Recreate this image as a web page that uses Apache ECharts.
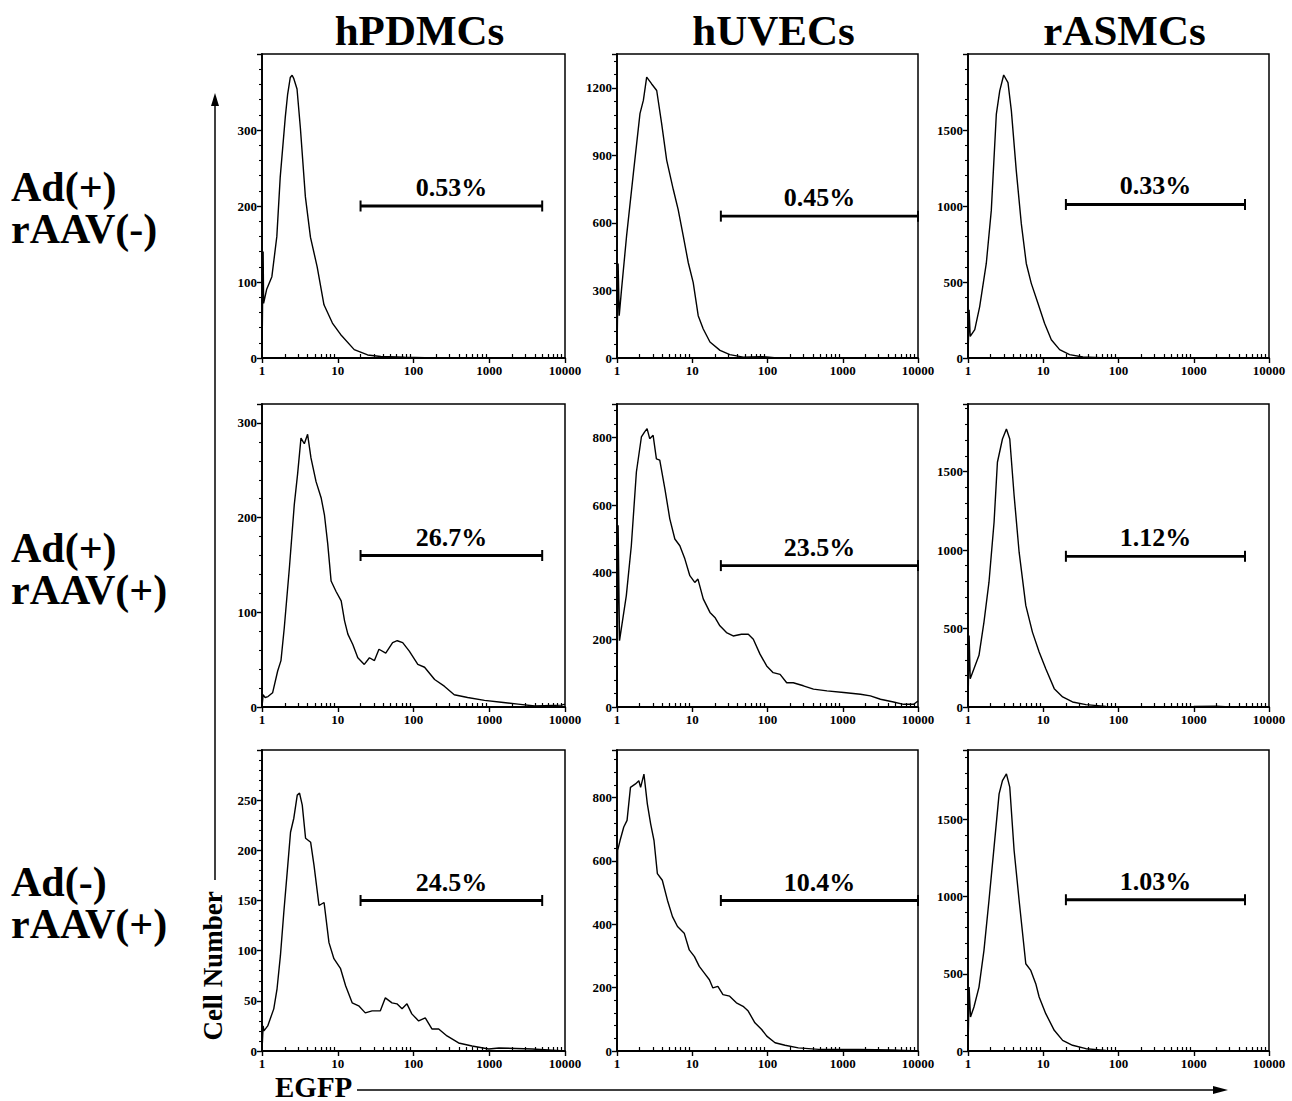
<!DOCTYPE html>
<html>
<head>
<meta charset="utf-8">
<script src="https://cdn.jsdelivr.net/npm/echarts@6/dist/echarts.min.js"></script>
<style>
  html, body { margin: 0; padding: 0; background: #fff; }
  #flow-chart { width: 1292px; height: 1101px; }
</style>
</head>
<body>
<div id="flow-chart"></div>
<script>
// column / row headings
var cellTypes = ["hPDMCs", "hUVECs", "rASMCs"];
var conditions = ["Ad(+)\nrAAV(-)", "Ad(+)\nrAAV(+)", "Ad(-)\nrAAV(+)"];
var xTicks = [1, 10, 100, 1000, 10000];
var xMinorTicks = [2, 3, 4, 5, 6, 7, 8, 9, 20, 30, 40, 50, 60, 70, 80, 90,
  200, 300, 400, 500, 600, 700, 800, 900, 2000, 3000, 4000, 5000, 6000, 7000, 8000, 9000];

// y axis range per panel (rows x cols)
var yMax = [[400, 1350, 2000], [320, 900, 1930], [300, 950, 1950]];
var yStep = [[100, 300, 500], [100, 200, 500], [50, 200, 500]];

// gates (marker bars) and percentages
var gateLow = [20, 24, 20];
var gateHigh = [5000, 10000, 4800];
var gateLevel = [[200, 630, 1010], [160, 420, 960], [150, 475, 980]];
var gatePercent = [["0.53%", "0.45%", "0.33%"], ["26.7%", "23.5%", "1.12%"], ["24.5%", "10.4%", "1.03%"]];

// histograms: [EGFP, cell number]
var hPDMC_r1 = [[1, 0], [1.035, 140], [1.05, 72], [1.15, 90], [1.35, 107], [1.57, 160], [1.74, 238], [2.03, 317],
  [2.18, 347], [2.36, 369], [2.5, 372], [2.62, 368], [2.9, 354], [3.21, 303], [3.74, 212], [4.36, 159], [5.35, 120],
  [6.58, 70], [8.5, 46], [10.9, 31], [16.5, 11], [24.8, 4], [37, 2], [76, 1], [192, 0], [10000, 0]];
var hUVEC_r1 = [[1, 0], [1.035, 420], [1.07, 188], [1.15, 306], [1.34, 541], [1.65, 820], [2.02, 1085], [2.24, 1144],
  [2.48, 1247], [2.89, 1217], [3.37, 1188], [3.92, 1041], [4.57, 879], [5.61, 747], [6.5, 659], [7.6, 541],
  [8.86, 423], [10.3, 335], [12.0, 188], [14.0, 129], [17.2, 71], [23.4, 34], [31.6, 15], [47.6, 4], [80, 6],
  [97, 5], [133, 0], [10000, 0]];
var rASMC_r1 = [[1, 0], [1.035, 317], [1.07, 142], [1.23, 186], [1.43, 338], [1.75, 622], [2.04, 971], [2.38, 1605],
  [2.64, 1757], [2.98, 1862], [3.4, 1812], [3.77, 1626], [4.38, 1233], [5.11, 884], [5.95, 622], [6.93, 491],
  [8.5, 360], [10.4, 229], [12.8, 120], [16.5, 55], [22.4, 22], [33.7, 7], [69, 0], [10000, 0]];

var hPDMC_r2 = [[1, 0], [1.035, 13], [1.1, 10], [1.2, 11], [1.38, 15], [1.61, 38], [1.78, 49], [1.97, 84], [2.3, 147],
  [2.67, 214], [2.95, 246], [3.27, 284], [3.62, 278], [4.0, 288], [4.43, 263], [5.17, 238], [6.03, 221],
  [6.67, 203], [7.38, 172], [8.17, 133], [9.5, 122], [11.1, 112], [12.3, 91], [13.6, 77], [15.8, 66], [18.4, 52],
  [22.4, 45], [26.2, 52], [30.5, 49], [35, 61], [43, 57], [53, 68], [61, 70], [72, 68], [88, 59], [114, 45],
  [140, 42], [190, 29], [255, 22], [345, 13], [518, 10], [866, 7], [1440, 5], [2400, 3], [4000, 1], [9000, 2],
  [10000, 3]];
var hUVEC_r2 = [[1, 0], [1.035, 540], [1.08, 197], [1.33, 331], [1.55, 479], [1.81, 698], [2.11, 802], [2.33, 817],
  [2.51, 827], [2.72, 797], [3.02, 807], [3.34, 737], [3.7, 733], [4.33, 648], [5.03, 559], [5.87, 499], [6.84, 479],
  [7.97, 440], [9.29, 390], [10.8, 370], [11.9, 380], [14.0, 321], [17.2, 281], [20, 266], [23.3, 241], [28.5, 221],
  [35, 211], [45, 216], [55.6, 216], [64.8, 201], [79.5, 157], [97.5, 122], [119, 102], [147, 97], [180, 72],
  [220, 72], [300, 63], [408, 53], [617, 48], [1030, 43], [1720, 38], [2330, 33], [3170, 23], [4730, 15],
  [6430, 8], [8780, 8], [10000, 18]];
var rASMC_r2 = [[1, 0], [1.035, 456], [1.07, 180], [1.2, 244], [1.4, 329], [1.63, 541], [1.9, 795], [2.22, 1177],
  [2.46, 1559], [2.87, 1707], [3.24, 1771], [3.59, 1707], [4.1, 1347], [4.78, 986], [5.86, 647], [7.18, 477],
  [8.82, 350], [10.8, 244], [14, 117], [18.1, 64], [24.5, 32], [36.9, 15], [68, 4], [170, 0], [1000, 3],
  [2000, 5], [3000, 0], [10000, 0]];

var hPDMC_r3 = [[1, 0], [1.035, 25], [1.06, 20], [1.19, 25], [1.43, 42], [1.58, 62], [1.75, 95], [1.94, 138],
  [2.15, 178], [2.38, 218], [2.63, 232], [2.92, 255], [3.13, 257], [3.4, 245], [3.76, 212], [4.39, 208],
  [4.86, 185], [5.66, 145], [6.6, 148], [7.66, 108], [8.9, 92], [10.9, 82], [12.7, 65], [15.5, 48], [18.9, 45],
  [23.1, 38], [28.4, 40], [36.5, 40], [42.5, 53], [52, 48], [60.5, 47], [70.6, 42], [82, 47], [95, 37], [117, 30],
  [143, 33], [175, 22], [215, 22], [277, 15], [394, 8], [592, 5], [985, 2], [1340, 3], [3700, 2], [10000, 0]];
var hUVEC_r3 = [[1, 0], [1.02, 633], [1.1, 665], [1.23, 707], [1.36, 728], [1.51, 832], [1.76, 843], [1.95, 853],
  [2.06, 832], [2.28, 874], [2.53, 780], [2.8, 717], [3.1, 665], [3.44, 560], [4.0, 539], [4.68, 476], [5.46, 424],
  [6.37, 393], [7.82, 372], [9.13, 319], [10.7, 298], [12.4, 267], [14.5, 246], [16.9, 225], [18.8, 199],
  [21.9, 204], [25.6, 178], [31.4, 173], [38.6, 152], [47.4, 141], [55.4, 126], [68, 89], [83.6, 68], [97.8, 47],
  [126, 26], [171, 18], [257, 10], [478, 5], [1640, 5], [4640, 3], [10000, 0]];
var rASMC_r3 = [[1, 0], [1.035, 414], [1.08, 220], [1.2, 285], [1.4, 414], [1.63, 652], [1.9, 975], [2.22, 1321],
  [2.59, 1666], [2.87, 1752], [3.24, 1795], [3.59, 1709], [4.1, 1299], [4.78, 975], [5.86, 565], [6.83, 522],
  [7.95, 436], [8.82, 350], [10.8, 242], [14, 134], [18.1, 69], [24.5, 37], [36.9, 15], [68, 4], [170, 0],
  [10000, 0]];

var histograms = [
  [hPDMC_r1, hUVEC_r1, rASMC_r1],
  [hPDMC_r2, hUVEC_r2, rASMC_r2],
  [hPDMC_r3, hUVEC_r3, rASMC_r3]
];

// panel layout in pixels
var colLeft = [262, 617, 968];
var colWidth = [303, 301, 301];
var rowTop = [54, 404, 750];
var rowHeight = [304, 303, 301];
var rowLabelTop = [166, 527, 861];

var serif = "Liberation Serif";
function plain(v) { return String(v); }

var option = {
  animation: false,
  backgroundColor: "#fff",
  grid: [],
  xAxis: [],
  yAxis: [],
  series: [],
  graphic: []
};

for (var r = 0; r < 3; r++) {
  for (var c = 0; c < 3; c++) {
    var g = r * 3 + c;
    option.grid.push({
      left: colLeft[c], top: rowTop[r], width: colWidth[c], height: rowHeight[r],
      show: true, borderColor: "#000", borderWidth: 1.5
    });
    // main log axis with decade labels
    option.xAxis.push({
      gridIndex: g, type: "log", logBase: 10, min: 1, max: 10000, position: "bottom",
      axisLine: { show: true, lineStyle: { color: "#000", width: 1.8 } },
      axisTick: { show: true, customValues: xTicks, length: 5, lineStyle: { color: "#000", width: 1.4 } },
      axisLabel: {
        customValues: xTicks, formatter: plain, color: "#000", fontFamily: serif,
        fontWeight: "bold", fontSize: 13, margin: 6
      },
      splitLine: { show: false }
    });
    // minor ticks 2..9 in each decade
    option.xAxis.push({
      gridIndex: g, type: "log", logBase: 10, min: 1, max: 10000, position: "bottom",
      axisLine: { show: false },
      axisTick: { show: true, customValues: xMinorTicks, length: 4, inside: true, lineStyle: { color: "#000", width: 1.2 } },
      axisLabel: { show: false },
      splitLine: { show: false }
    });
    option.yAxis.push({
      gridIndex: g, type: "value", min: 0, max: yMax[r][c], interval: yStep[r][c],
      axisLine: { show: true, lineStyle: { color: "#000", width: 1.8 } },
      axisTick: { show: true, length: 5, lineStyle: { color: "#000", width: 1.4 } },
      minorTick: { show: true, splitNumber: 5, length: 3, lineStyle: { color: "#000", width: 1.1 } },
      axisLabel: {
        formatter: plain, showMaxLabel: false, color: "#000", fontFamily: serif,
        fontWeight: "bold", fontSize: 13, margin: 5
      },
      splitLine: { show: false }
    });

    option.series.push({
      type: "line", xAxisIndex: g * 2, yAxisIndex: g,
      data: histograms[r][c],
      symbol: "none", smooth: false,
      lineStyle: { color: "#000", width: 1.4 }
    });
    // gate bar
    option.series.push({
      type: "line", xAxisIndex: g * 2, yAxisIndex: g,
      data: [[gateLow[c], gateLevel[r][c]], [gateHigh[c], gateLevel[r][c]]],
      symbol: "rect", symbolSize: [2, 11], clip: false,
      itemStyle: { color: "#000" },
      lineStyle: { color: "#000", width: 2.8 }
    });
    // gate percentage, centred over the bar
    option.series.push({
      type: "scatter", xAxisIndex: g * 2, yAxisIndex: g,
      data: [[Math.sqrt(gateLow[c] * gateHigh[c]), gateLevel[r][c]]],
      symbolSize: 1, itemStyle: { color: "transparent" },
      emphasis: { disabled: true },
      label: {
        show: true, position: "top", distance: 5, formatter: gatePercent[r][c],
        color: "#000", opacity: 1, textBorderWidth: 0,
        fontFamily: serif, fontWeight: "bold", fontSize: 26
      }
    });
  }
}

for (var c = 0; c < 3; c++) {
  option.graphic.push({
    type: "text", x: colLeft[c] + colWidth[c] / 2 + 6, y: 30,
    style: {
      text: cellTypes[c], fill: "#000", fontFamily: serif, fontWeight: "bold", fontSize: 43,
      textAlign: "center", textVerticalAlign: "middle"
    }
  });
}
for (var r = 0; r < 3; r++) {
  option.graphic.push({
    type: "text", x: 11, y: rowLabelTop[r],
    style: {
      text: conditions[r], fill: "#000", fontFamily: serif, fontWeight: "bold", fontSize: 42,
      lineHeight: 42, textAlign: "left", textVerticalAlign: "top"
    }
  });
}

// axis titles with arrows
option.graphic.push(
  {
    type: "text", x: 213, y: 966, rotation: Math.PI / 2,
    style: {
      text: "Cell Number", fill: "#000", fontFamily: serif, fontWeight: "bold", fontSize: 27,
      textAlign: "center", textVerticalAlign: "middle"
    }
  },
  { type: "line", shape: { x1: 215, y1: 880, x2: 215, y2: 104 }, style: { stroke: "#000", lineWidth: 1.5 } },
  { type: "polygon", shape: { points: [[215, 93], [211, 106], [219, 106]] }, style: { fill: "#000" } },
  {
    type: "text", x: 275, y: 1101,
    style: {
      text: "EGFP", fill: "#000", fontFamily: serif, fontWeight: "bold", fontSize: 29,
      textAlign: "left", textVerticalAlign: "bottom"
    }
  },
  { type: "line", shape: { x1: 357, y1: 1090, x2: 1214, y2: 1090 }, style: { stroke: "#000", lineWidth: 1.5 } },
  { type: "polygon", shape: { points: [[1228, 1090], [1213, 1086], [1213, 1094]] }, style: { fill: "#000" } }
);

var myChart = echarts.init(document.getElementById("flow-chart"), null, { renderer: "svg" });
myChart.setOption(option);
</script>
</body>
</html>
